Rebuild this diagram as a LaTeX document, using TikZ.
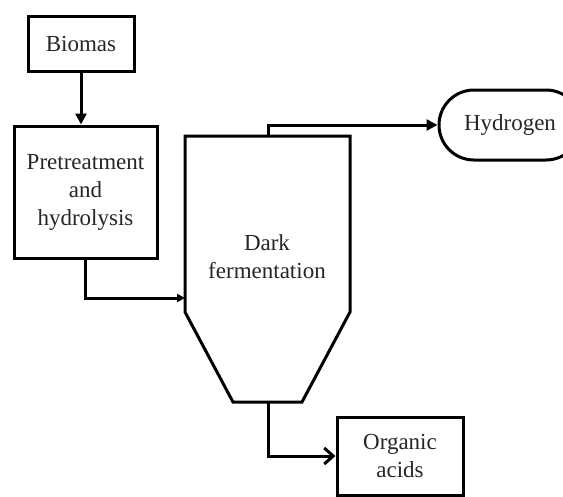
\documentclass[tikz,border=0pt]{standalone}
\usepackage{fontspec}
\setmainfont{Liberation Serif}
\usetikzlibrary{arrows.meta}
\begin{document}
\begin{tikzpicture}[x=1pt,y=-1pt,
  every node/.style={font=\fontsize{23}{28}\selectfont, text=black!85, align=center, inner sep=0pt},
  box/.style={draw, line width=3pt, rectangle},
  conn/.style={line width=3pt, -{Triangle[length=11pt,width=11pt]}},
  conno/.style={line width=3pt, -{Straight Barb[length=9pt,width=16pt,line width=3pt]}}]
\useasboundingbox (0,0) rectangle (563,496);
\node[box, minimum width=106pt, minimum height=55pt] (bio) at (81,43.5) {Biomas};
\node[box, minimum width=143pt, minimum height=132pt] (pre) at (85.5,192) {Pretreatment\\and\\hydrolysis};
\node[box, rounded corners=35pt, minimum width=142pt, minimum height=70pt] (hyd) at (510,125) {Hydrogen};
\node[box, minimum width=126pt, minimum height=78pt] (org) at (400,456) {Organic\\acids};
\draw[line width=3pt, line join=miter] (185,136) -- (350,136) -- (350,312) -- (302,402) -- (233,402) -- (185,312) -- cycle;
\coordinate (rtop) at (268,136);
\coordinate (rbot) at (268,402);
\coordinate (rin) at (185,298);
\node (dark) at (267,257) {Dark\\fermentation};
\draw[conn] (bio.south) -- (bio.south |- pre.north);
\draw[line width=3pt, -{Triangle[length=8pt,width=8pt]}] (pre.south) |- (rin);
\draw[conn] (rtop) |- (hyd.west);
\draw[conno] (rbot) |- (org.west);
\end{tikzpicture}
\end{document}
